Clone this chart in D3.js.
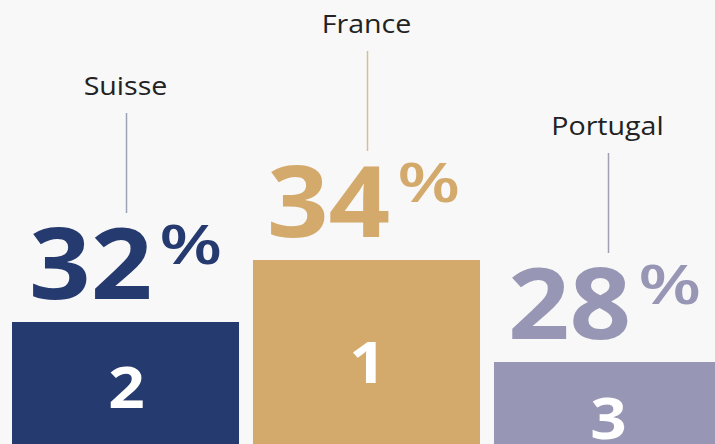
<!DOCTYPE html>
<html>
<head>
<meta charset="utf-8">
<script src="https://cdn.jsdelivr.net/npm/d3@7"></script>
<style>
  body { margin: 0; background: #f8f8f8; }
  svg { display: block; font-family: "Open Sans", sans-serif; }
</style>
</head>
<body>
<div id="chart"></div>
<script>
// podium data
var countries = ["Suisse", "France", "Portugal"];
var shares = [32, 34, 28];
var ranks = [2, 1, 3];
var colors = ["#253a6e", "#d3aa6b", "#9797b5"];
var lineColors = ["#9ca2b8", "#d6bf98", "#a0a0b2"];

var width = 715, height = 444;
var stretch = 1.1; // text in the source is a bit wide

var svg = d3.select("#chart").append("svg")
    .attr("width", width)
    .attr("height", height);

svg.append("rect")
    .attr("width", width)
    .attr("height", height)
    .attr("fill", "#f8f8f8");

// x: one slot per country
var xScale = d3.scaleBand()
    .domain(countries)
    .range([12, 721])
    .paddingInner(0.058)
    .paddingOuter(0);

// podium step top by rank
var yScale = d3.scaleLinear()
    .domain([1, 2, 3])
    .range([260, 322, 362]);

// baseline of the rank digit inside the step
var yRank = d3.scaleLinear()
    .domain([1, 2, 3])
    .range([383, 408, 439]);

var data = countries.map(function(c, i) {
    return {country: c, share: shares[i], rank: ranks[i], color: colors[i], line: lineColors[i]};
});

function cx(d) { return xScale(d.country) + xScale.bandwidth() / 2; }

var g = svg.selectAll(".step")
    .data(data)
    .enter().append("g")
    .attr("class", "step");

// bars
g.append("rect")
    .attr("x", function(d) { return xScale(d.country); })
    .attr("y", function(d) { return yScale(d.rank); })
    .attr("width", xScale.bandwidth())
    .attr("height", function(d) { return height - yScale(d.rank) + 10; })
    .attr("fill", function(d) { return d.color; });

// rank number inside bar
g.append("text")
    .attr("transform", function(d) { return "translate(" + (cx(d) + 1) + "," + yRank(d.rank) + ") scale(" + stretch + ",1)"; })
    .attr("text-anchor", "middle")
    .style("font-size", "58px")
    .style("font-weight", "bold")
    .attr("fill", "#fff")
    .text(function(d) { return d.rank; });

// big percentage
var num = g.append("text")
    .attr("class", "num")
    .attr("transform", function(d) {
        var x0 = xScale(d.country) + (d.rank == 2 ? 17 : 14);
        return "translate(" + x0 + "," + (yScale(d.rank) - 23) + ") scale(" + stretch + ",1)";
    })
    .attr("fill", function(d) { return d.color; })
    .style("font-size", "98px")
    .style("font-weight", "bold")
    .text(function(d) { return d.share; });

// percent sign, placed after the digits
num.each(function(d) {
    var w = this.getComputedTextLength() * stretch;
    var x0 = xScale(d.country) + (d.rank == 2 ? 17 : 14);
    d3.select(this.parentNode).append("text")
        .attr("transform", "translate(" + (x0 + w + 7) + "," + (yScale(d.rank) - 58) + ") scale(1.35,1)")
        .attr("fill", d.color)
        .style("font-size", "54px")
        .style("font-weight", "600")
        .text("%");
});

// leader line
g.append("line")
    .attr("x1", function(d) { return cx(d) + 1; })
    .attr("x2", function(d) { return cx(d) + 1; })
    .attr("y1", function(d) { return yScale(d.rank) - 209; })
    .attr("y2", function(d) { return yScale(d.rank) - 109; })
    .attr("stroke", function(d) { return d.line; })
    .attr("stroke-width", 1.5);

// country label
g.append("text")
    .attr("transform", function(d) { return "translate(" + cx(d) + "," + (yScale(d.rank) - 227) + ") scale(" + stretch + ",1)"; })
    .attr("text-anchor", "middle")
    .style("font-size", "26px")
    .attr("fill", "#222")
    .text(function(d) { return d.country; });
</script>
</body>
</html>
